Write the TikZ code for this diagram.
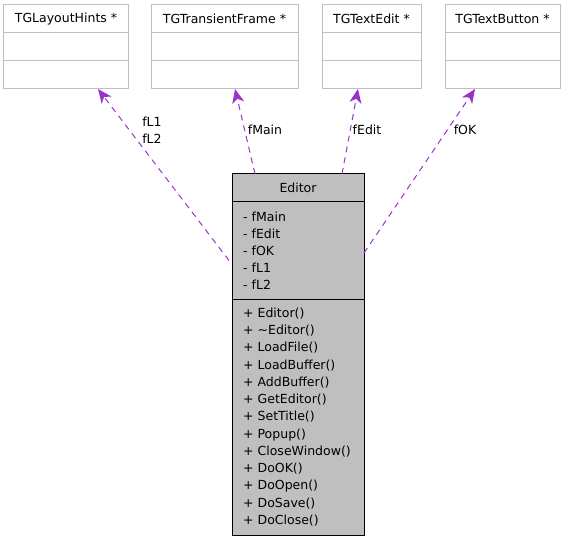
\documentclass[tikz,border=0pt]{standalone}
\usepackage{fontspec}
\setmainfont{DejaVu Sans}
\usetikzlibrary{arrows.meta,positioning}
\definecolor{usecol}{HTML}{9A32CD}
\definecolor{boxgray}{HTML}{BFBFBF}
\tikzset{
  txt/.style={font=\fontsize{12.5bp}{17bp}\selectfont},
  cls/.style={txt, draw=boxgray, fill=white, line width=1bp, minimum height=28bp, inner sep=0pt, outer sep=0pt},
  ecls/.style={txt, draw=black, fill=boxgray, line width=1bp, minimum height=28bp, inner sep=0pt, outer sep=0pt},
  uses/.style={draw=usecol, line width=1bp, dash pattern=on 6bp off 5bp, -{Stealth[length=14bp,width=12bp,inset=4bp]}}
}
\begin{document}
\begin{tikzpicture}[x=1bp,y=-1bp]
\useasboundingbox (0,0) rectangle (565,541);

% Used classes along the top
\node[cls, minimum width=124bp] (hints) at (66,19) {TGLayoutHints *};
\node[cls, minimum width=124bp, below=0 of hints] (hintsattr) {};
\node[cls, minimum width=124bp, below=0 of hintsattr] (hintsops) {};

\node[cls, minimum width=147bp] (frame) at (224.5,19) {TGTransientFrame *};
\node[cls, minimum width=147bp, below=0 of frame] (frameattr) {};
\node[cls, minimum width=147bp, below=0 of frameattr] (frameops) {};

\node[cls, minimum width=99bp] (textedit) at (371.5,19) {TGTextEdit *};
\node[cls, minimum width=99bp, below=0 of textedit] (texteditattr) {};
\node[cls, minimum width=99bp, below=0 of texteditattr] (texteditops) {};

\node[cls, minimum width=115bp] (button) at (502.5,19) {TGTextButton *};
\node[cls, minimum width=115bp, below=0 of button] (buttonattr) {};
\node[cls, minimum width=115bp, below=0 of buttonattr] (buttonops) {};

% The Editor class
\node[ecls, minimum width=132bp] (editor) at (298,188) {Editor};
\node[ecls, minimum height=97bp, below=0 of editor, text width=110bp, inner xsep=11bp, align=left] (editorattr)
  {- fMain\\- fEdit\\- fOK\\- fL1\\- fL2};
\node[ecls, minimum height=236bp, below=0 of editorattr, text width=110bp, inner xsep=11bp, align=left,
  font=\fontsize{12.5bp}{17.25bp}\selectfont] (editorops)
  {+ Editor()\\+ \textasciitilde Editor()\\+ LoadFile()\\+ LoadBuffer()\\+ AddBuffer()\\+ GetEditor()\\+ SetTitle()\\+ Popup()\\+ CloseWindow()\\+ DoOK()\\+ DoOpen()\\+ DoSave()\\+ DoClose()};

% Usage relations with their member names
\draw[uses] ([xshift=-3bp,yshift=-10bp]editorattr.west) -- ([xshift=32bp]hintsops.south);
\draw[uses] ([xshift=-43bp]editor.north) -- ([xshift=10.5bp]frameops.south);
\draw[uses] ([xshift=44bp]editor.north) -- ([xshift=-13.5bp]texteditops.south);
\draw[uses] ([yshift=-2.5bp]editorattr.east) -- ([xshift=-27.5bp]buttonops.south);
\node[txt, align=center] (lblL) at (152,130.5) {fL1\\fL2};
\node[txt] (lblMain) at (265,130) {fMain};
\node[txt] (lblEdit) at (367,130) {fEdit};
\node[txt] (lblOK) at (465,130) {fOK};

\end{tikzpicture}
\end{document}
